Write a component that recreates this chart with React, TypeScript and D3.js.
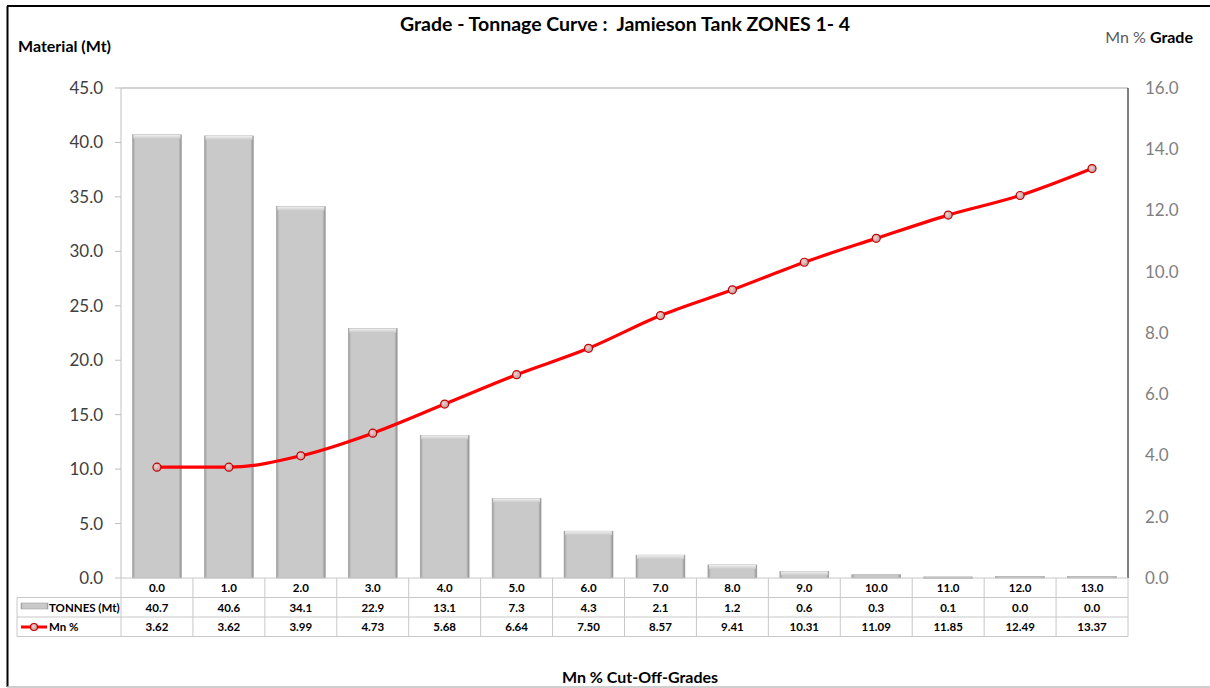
import React from "react";
import * as d3 from "d3";

const categories = ["0.0","1.0","2.0","3.0","4.0","5.0","6.0","7.0","8.0","9.0","10.0","11.0","12.0","13.0"];
const tonnes = [40.7, 40.6, 34.1, 22.9, 13.1, 7.3, 4.3, 2.1, 1.2, 0.6, 0.3, 0.1, 0.0, 0.0];
const grade = [3.62, 3.62, 3.99, 4.73, 5.68, 6.64, 7.50, 8.57, 9.41, 10.31, 11.09, 11.85, 12.49, 13.37];
const leftTicks = [0, 5, 10, 15, 20, 25, 30, 35, 40, 45];
const rightTicks = [0, 2, 4, 6, 8, 10, 12, 14, 16];

const W = 1210, H = 688;
const plotL = 121, plotR = 1128, plotT = 88, plotB = 578;
const FONT = "Lato, 'Open Sans', sans-serif";

export default function App() {
  const x = d3.scaleBand<string>().domain(categories).range([plotL, plotR]).paddingInner(0.32).paddingOuter(0.16);
  const xc = d3.scaleBand<string>().domain(categories).range([plotL, plotR]);
  const yL = d3.scaleLinear().domain([0, 45]).range([plotB, plotT]);
  const yR = d3.scaleLinear().domain([0, 16]).range([plotB, plotT]);
  const line = d3.line<number>()
    .x((_, i) => (xc(categories[i]) as number) + xc.bandwidth() / 2)
    .y((d) => yR(d))
    .curve(d3.curveMonotoneX);

  const rowY = [578, 597.5, 617, 636.5];
  const tableL = 17;
  const textColor = "#000";
  const gridGray = "#c8c8c8";

  return (
    <svg width={W} height={H} style={{ position: "absolute", left: 0, top: 0 }} fontFamily={FONT}>
      <defs>
        <linearGradient id="barH" x1="0" x2="1" y1="0" y2="0">
          <stop offset="0" stopColor="#9a9a9a" />
          <stop offset="0.06" stopColor="#c9c9c9" />
          <stop offset="0.94" stopColor="#c9c9c9" />
          <stop offset="1" stopColor="#8e8e8e" />
        </linearGradient>
        <linearGradient id="barTop" x1="0" x2="0" y1="0" y2="1">
          <stop offset="0" stopColor="#f0f0f0" />
          <stop offset="1" stopColor="#c9c9c9" />
        </linearGradient>
        <radialGradient id="mk" cx="0.4" cy="0.4" r="0.7">
          <stop offset="0" stopColor="#f4d0d0" />
          <stop offset="1" stopColor="#b89090" />
        </radialGradient>
      </defs>
      <rect x={0} y={0} width={W} height={H} fill="#fff" />
      {/* outer border */}
      <line x1={7.5} x2={7.5} y1={6} y2={687} stroke="#000" strokeWidth={2} />
      <line x1={7} x2={W} y1={6} y2={6} stroke="#000" strokeWidth={2} />
      <line x1={7} x2={W} y1={687} y2={687} stroke="#bfbfbf" strokeWidth={1.5} />

      {/* titles */}
      <text x={625} y={31} textAnchor="middle" fontSize={19.5} fontWeight="bold" fill="#000" style={{ whiteSpace: "pre" }}>
        {"Grade - Tonnage Curve :  Jamieson Tank ZONES 1- 4"}
      </text>
      <text x={18} y={52} fontSize={16} fontWeight="bold" fill="#000">Material (Mt)</text>
      <text x={1193} y={43} textAnchor="end" fontSize={16} fill="#000" style={{ whiteSpace: "pre" }}>
        <tspan fill="#595959">{"Mn % "}</tspan>
        <tspan fontWeight="bold">Grade</tspan>
      </text>
      <text x={640} y={683} textAnchor="middle" fontSize={16} fontWeight="bold" fill="#000">Mn % Cut-Off-Grades</text>

      {/* plot frame */}
      <line x1={plotL} x2={plotR} y1={plotT} y2={plotT} stroke="#a6a6a6" strokeWidth={1} />
      <line x1={plotL} x2={plotL} y1={plotT} y2={plotB} stroke="#bfbfbf" strokeWidth={1} />
      <line x1={plotR} x2={plotR} y1={plotT} y2={plotB} stroke="#000" strokeWidth={1} />

      {/* left ticks */}
      {leftTicks.map((t) => (
        <g key={"l" + t}>
          <line x1={plotL - 6} x2={plotL} y1={yL(t)} y2={yL(t)} stroke="#bfbfbf" />
          <text x={103} y={yL(t)} dy="0.35em" textAnchor="end" fontSize={17} fill="#404040">{t.toFixed(1)}</text>
        </g>
      ))}
      {rightTicks.map((t) => (
        <text key={"r" + t} x={1145} y={yR(t)} dy="0.35em" fontSize={17} fill="#7f7f7f">{t.toFixed(1)}</text>
      ))}

      {/* bars */}
      {tonnes.map((v, i) => {
        const bx = x(categories[i]) as number;
        const by = yL(v);
        const bh = Math.max(plotB - by, 0);
        return (
          <g key={"b" + i}>
            <rect x={bx} y={by - (v === 0 ? 1.5 : 0)} width={x.bandwidth()} height={Math.max(bh, 1.5)} fill="url(#barH)" stroke="#a0a0a0" strokeWidth={0.6} />
            {bh > 4 && <rect x={bx + 1} y={by} width={x.bandwidth() - 2} height={4} fill="url(#barTop)" />}
          </g>
        );
      })}

      {/* line */}
      <path d={line(grade) || ""} fill="none" stroke="#ff0000" strokeWidth={3.2} />
      {grade.map((g, i) => (
        <circle key={"m" + i} cx={(xc(categories[i]) as number) + xc.bandwidth() / 2} cy={yR(g)} r={4} fill="url(#mk)" stroke="#c00000" strokeWidth={1.2} />
      ))}

      {/* data table */}
      <g>
        <line x1={plotL} x2={plotR} y1={rowY[0]} y2={rowY[0]} stroke={gridGray} />
        {rowY.slice(1).map((ry, i) => (
          <line key={"h" + i} x1={tableL} x2={plotR} y1={ry} y2={ry} stroke={gridGray} />
        ))}
        <line x1={tableL} x2={tableL} y1={rowY[1]} y2={rowY[3]} stroke={gridGray} />
        {categories.map((c, i) => (
          <line key={"v" + i} x1={xc(c) as number} x2={xc(c) as number} y1={rowY[0]} y2={rowY[3]} stroke={gridGray} />
        ))}
        <line x1={plotR} x2={plotR} y1={rowY[0]} y2={rowY[3]} stroke={gridGray} />
        {categories.map((c, i) => {
          const cx = (xc(c) as number) + xc.bandwidth() / 2;
          return (
            <g key={"t" + i} fontSize={11.5} fontWeight="bold" fill={textColor} textAnchor="middle">
              <text x={cx} y={(rowY[0] + rowY[1]) / 2} dy="0.38em">{c}</text>
              <text x={cx} y={(rowY[1] + rowY[2]) / 2} dy="0.38em">{tonnes[i].toFixed(1)}</text>
              <text x={cx} y={(rowY[2] + rowY[3]) / 2} dy="0.38em">{grade[i].toFixed(2)}</text>
            </g>
          );
        })}
        <rect x={21} y={603} width={27} height={6} fill="url(#barH)" stroke="#a0a0a0" strokeWidth={0.6} />
        <text x={49} y={(rowY[1] + rowY[2]) / 2} dy="0.38em" fontSize={11.5} fontWeight="bold">TONNES (Mt)</text>
        <line x1={21} x2={47} y1={627} y2={627} stroke="#ff0000" strokeWidth={3} />
        <circle cx={34} cy={627} r={3.5} fill="url(#mk)" stroke="#c00000" strokeWidth={1.2} />
        <text x={49} y={(rowY[2] + rowY[3]) / 2} dy="0.38em" fontSize={11.5} fontWeight="bold">Mn %</text>
      </g>
    </svg>
  );
}
